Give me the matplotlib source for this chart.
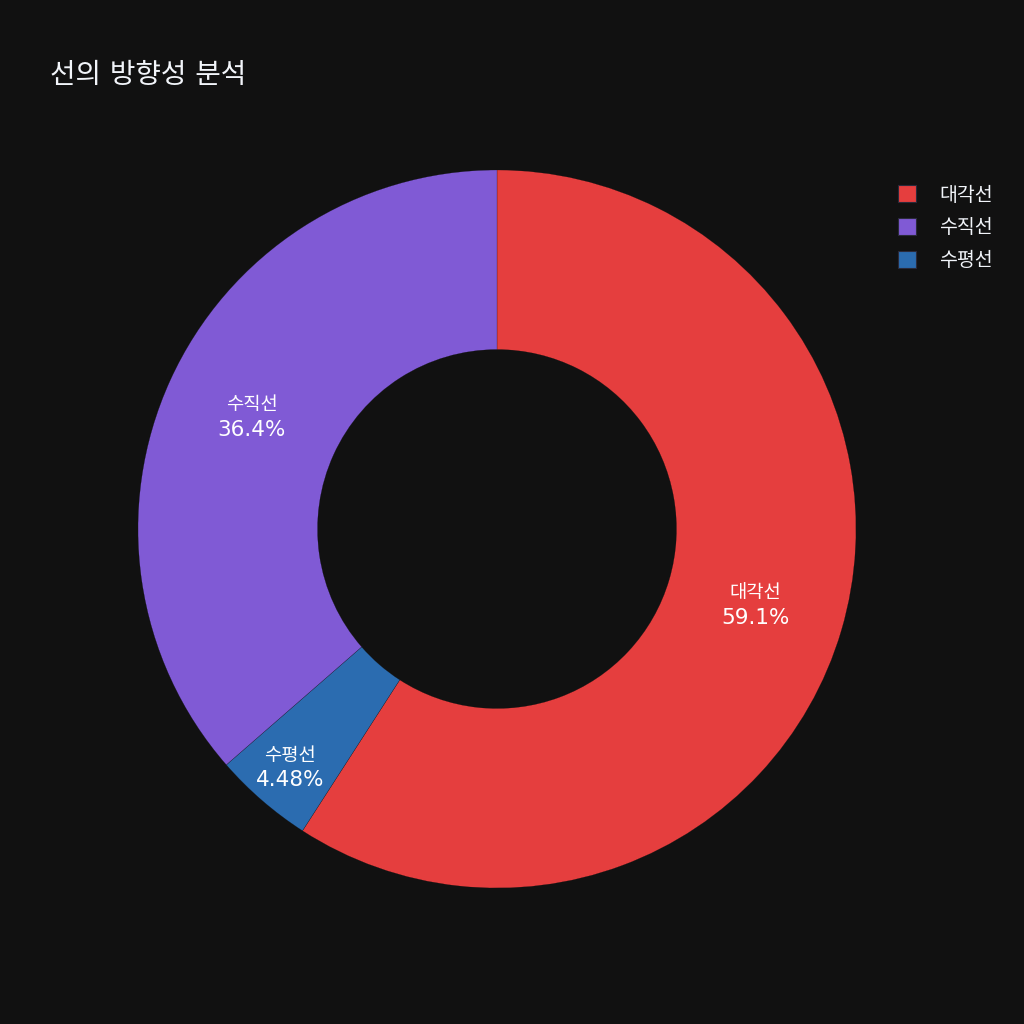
import numpy as np
import matplotlib
matplotlib.use('Agg')
import matplotlib.pyplot as plt
from matplotlib.patches import Patch

plt.rcParams['font.family'] = ['DejaVu Sans', 'Noto Sans CJK KR']

# data (legend order)
labels = ['대각선', '수직선', '수평선']
values = [59.1, 36.4, 4.48]
colors = ['#E53E3E', '#805AD5', '#2B6CB0']
# clockwise drawing order starting at 12 o'clock
draw_order = [0, 2, 1]

BG = '#111111'
W, H = 1024, 1024
fig = plt.figure(figsize=(W / 100, H / 100), dpi=100, facecolor=BG)

cx, cy, r = 497, 529, 359
ax = fig.add_axes([(cx - r) / W, (H - cy - r) / H, 2 * r / W, 2 * r / H])
ax.set_facecolor(BG)

vals = [values[i] for i in draw_order]
cols = [colors[i] for i in draw_order]
wedges, _ = ax.pie(vals, colors=cols, startangle=90, counterclock=False,
                   radius=1, wedgeprops=dict(width=0.5, edgecolor=BG, linewidth=0.15))
ax.set_xlim(-1, 1)
ax.set_ylim(-1, 1)
ax.set_aspect('equal')
ax.axis('off')

total = sum(values)
for w, i in zip(wedges, draw_order):
    pct = values[i] / total * 100
    ang = np.deg2rad((w.theta1 + w.theta2) / 2)
    dist = 0.75 if pct > 10 else 0.88
    x, y = dist * np.cos(ang), dist * np.sin(ang)
    ax.annotate(labels[i], (x, y), xytext=(0, 9), textcoords='offset points',
                ha='center', va='center', color='white', fontsize=13.5)
    ax.annotate(f'{pct:.3g}%', (x, y), xytext=(0, -9), textcoords='offset points',
                ha='center', va='center', color='white', fontsize=15.5)

fig.text(50 / W, 1 - 75 / H, '선의 방향성 분석', color='#f2f5fa', fontsize=20,
         ha='left', va='center')

handles = [Patch(facecolor=c, edgecolor='#2a2a3a', linewidth=0.8) for c in colors]
fig.legend(handles, labels, loc='upper left', bbox_to_anchor=(880 / W, 1 - 168 / H),
           frameon=False, fontsize=14, labelcolor='#f2f5fa', handlelength=0.95,
           handleheight=0.95, handletextpad=1.2, labelspacing=0.71)

fig.savefig('out.png', dpi=100, facecolor=BG)
